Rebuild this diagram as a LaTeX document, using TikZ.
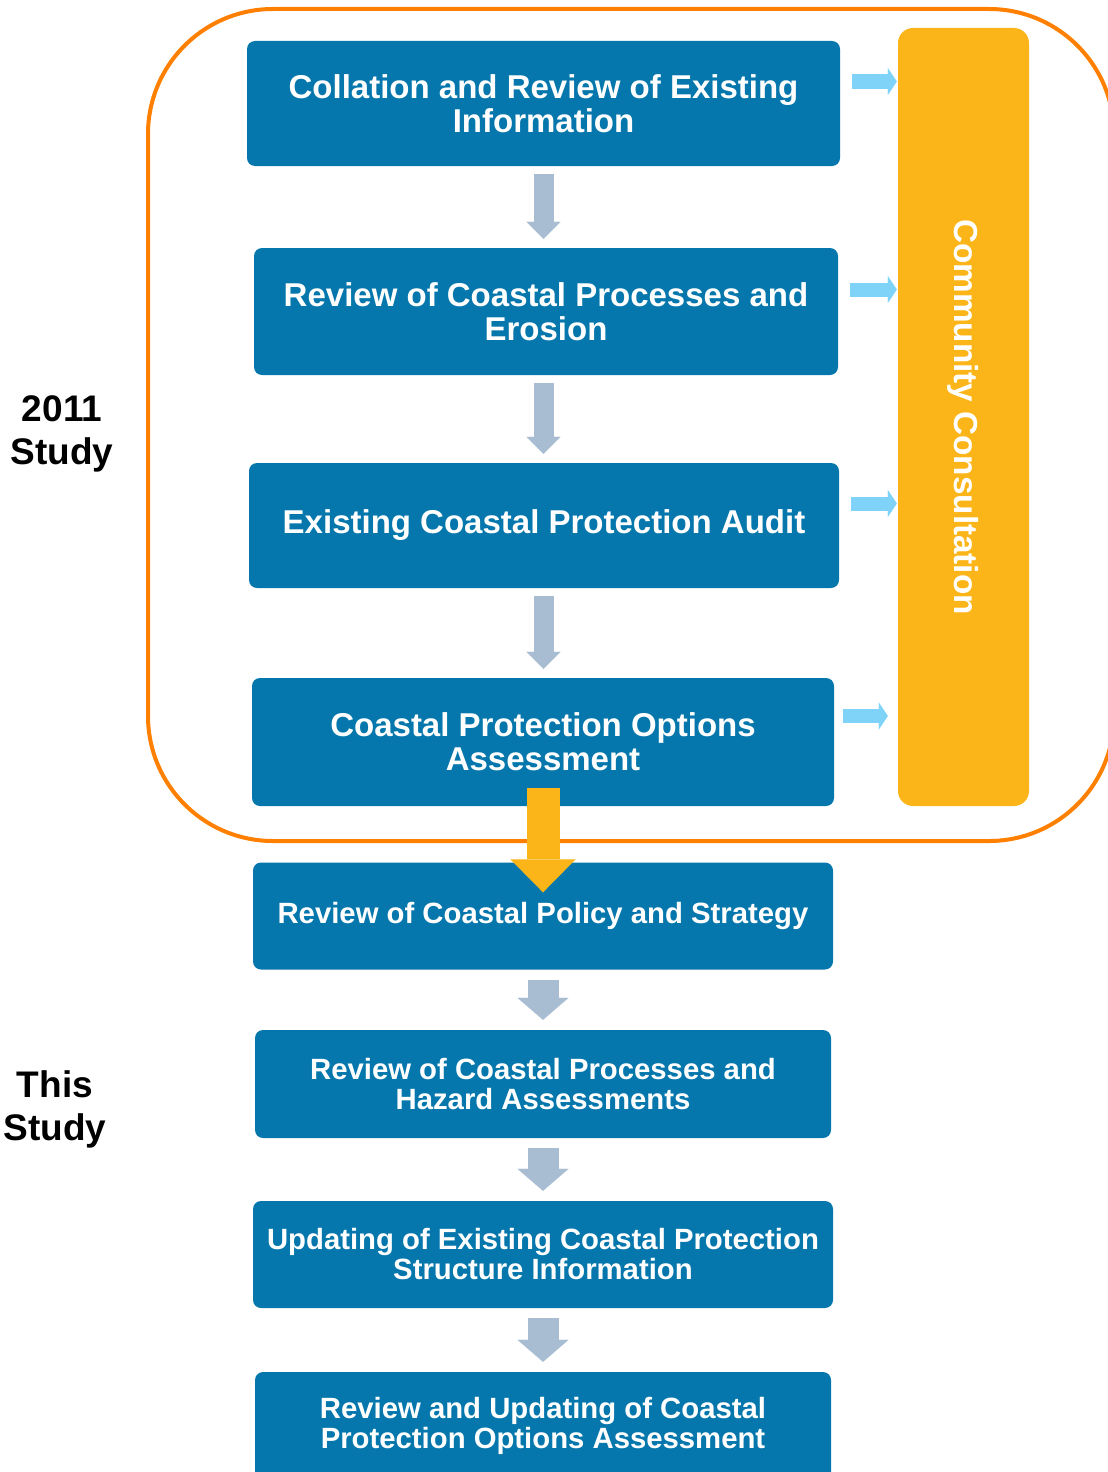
\documentclass[tikz,border=0pt]{standalone}
\usepackage{fontspec}
\setmainfont{Liberation Sans}
\usetikzlibrary{arrows.meta, calc}
\definecolor{stageblue}{RGB}{5,119,172}
\definecolor{consultyellow}{RGB}{251,181,25}
\definecolor{frameorange}{RGB}{255,128,0}
\definecolor{stepgrey}{RGB}{169,189,210}
\definecolor{feedblue}{RGB}{127,211,248}
\begin{document}
\begin{tikzpicture}[x=1pt, y=-1pt, every node/.style={font=\bfseries},
    stage/.style={fill=stageblue, rounded corners=8pt, text=white, align=center, inner sep=0pt,
        font=\bfseries\fontsize{33}{34}\selectfont},
    lowstage/.style={stage, font=\bfseries\fontsize{29.3}{30}\selectfont},
    study/.style={align=center, font=\bfseries\fontsize{37}{43}\selectfont},
    frame/.style={draw=frameorange, line width=4pt, rounded corners=125pt},
    stepdown/.style={draw=stepgrey, line width=20pt, shorten <=8pt, shorten >=9pt,
        -{Triangle[width=34pt, length=17pt, line width=0.01pt]}},
    stepwide/.style={draw=stepgrey, line width=31pt, shorten <=10pt, shorten >=10pt,
        -{Triangle[width=51pt, length=22pt, line width=0.01pt]}},
    feed/.style={draw=feedblue, line width=14pt, shorten <=12pt, shorten >=1pt,
        -{Triangle[width=27pt, length=9pt, line width=0.01pt]}},
    handover/.style={draw=consultyellow, line width=33pt,
        -{Triangle[width=65pt, length=33pt, line width=0.01pt]}}]
        \useasboundingbox (0,0) rectangle (1108,1472);
        \begin{scope}
            \draw[frame] (148,9) rectangle (1114,841);
            \node[stage, minimum width=593pt, minimum height=125pt] (collate) at (543.5,103.5)
                {Collation and Review of Existing\\Information};
            \node[stage, minimum width=584pt, minimum height=127pt] (erosion) at (546,311.5)
                {Review of Coastal Processes and\\Erosion};
            \node[stage, minimum width=590pt, minimum height=125pt] (audit) at (544,525.5)
                {Existing Coastal Protection Audit};
            \node[stage, minimum width=582pt, minimum height=128pt] (options) at (543,742)
                {Coastal Protection Options\\Assessment};
            \node[fill=consultyellow, rounded corners=15pt, inner sep=0pt, text=white,
                minimum width=131pt, minimum height=778pt, font=\bfseries\fontsize{33.3}{36}\selectfont]
                (cc) at (963.5,417) {\rotatebox{-90}{Community Consultation}};
            \node[study] (old) at (62,434) {2011\\Study};

            \foreach \a/\b in {collate/erosion, erosion/audit, audit/options}{
                \draw[stepdown] (collate.south |- \a.south) -- (collate.south |- \b.north);
            }
            \foreach \s in {collate, erosion, audit}{
                \draw[feed] ([yshift=22pt]\s.east) -- ([yshift=22pt]\s.east -| cc.west);
            }
            \draw[feed, shorten <=9pt, shorten >=10pt] ([yshift=26pt]options.east) -- ([yshift=26pt]options.east -| cc.west);
        \end{scope}
        \begin{scope}
            \node[lowstage, minimum width=580pt, minimum height=107pt] (policy) at (543,916)
                {Review of Coastal Policy and Strategy};
            \node[lowstage, minimum width=576pt, minimum height=108pt] (hazard) at (543,1084)
                {Review of Coastal Processes and\\Hazard Assessments};
            \node[lowstage, minimum width=580pt, minimum height=107pt] (structure) at (543,1254.5)
                {Updating of Existing Coastal Protection\\Structure Information};
            \node[lowstage, minimum width=576pt, minimum height=108pt] (update) at (543,1426)
                {Review and Updating of Coastal\\Protection Options Assessment};
            \node[study] (new) at (55,1109) {This\\Study};

            \foreach \a/\b in {policy/hazard, hazard/structure, structure/update}{
                \draw[stepwide] (\a.south) -- (\b.north);
            }
            \draw[handover] ([yshift=18pt]options.south) -- ([yshift=-30pt]policy.north);
        \end{scope}
    \end{tikzpicture}
\end{document}
